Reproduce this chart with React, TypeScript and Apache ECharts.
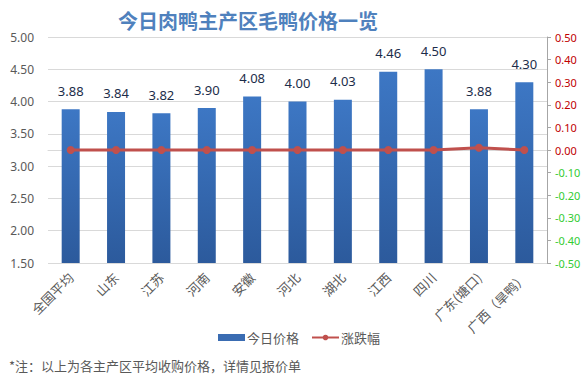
import React, { useEffect, useRef } from "react";
import * as echarts from "echarts";

const categories = ["全国平均", "山东", "江苏", "河南", "安徽", "河北", "湖北", "江西", "四川", "广东(塘口)", "广西（旱鸭）"];
const prices = [3.88, 3.84, 3.82, 3.9, 4.08, 4.0, 4.03, 4.46, 4.5, 3.88, 4.3];
const changes = [0, 0, 0, 0, 0, 0, 0, 0, 0, 0.01, 0];

const CJK = '"Noto Sans CJK SC", "Noto Sans", sans-serif';

export default function App() {
  const ref = useRef<HTMLDivElement>(null);
  useEffect(() => {
    if (!ref.current) return;
    const chart = echarts.init(ref.current, null, { renderer: "svg" });
    chart.setOption({
      animation: false,
      backgroundColor: "#ffffff",
      title: {
        text: "今日肉鸭主产区毛鸭价格一览",
        left: 243,
        textAlign: "center",
        top: 5,
        textStyle: { fontFamily: CJK, fontSize: 20, fontWeight: "bold", color: "#4f81bd" },
      },
      grid: { left: 48, right: 40, top: 37, bottom: 123 },
      legend: {
        left: 213,
        top: 326,
        itemGap: 12,
        itemWidth: 27,
        itemHeight: 7,
        textStyle: { fontFamily: CJK, fontSize: 13, color: "#595959", padding: [0, 0, 0, -3] },
        data: [
          { name: "今日价格", icon: "rect", itemStyle: { color: "#3a6cb2" } },
          { name: "涨跌幅" },
        ],
      },
      graphic: [
        {
          type: "text",
          left: 9,
          top: 359,
          style: {
            text: "*注：以上为各主产区平均收购价格，详情见报价单",
            fontFamily: CJK,
            fontSize: 13,
            fill: "#595959",
          },
        },
      ],
      xAxis: {
        type: "category",
        data: categories,
        axisLine: { lineStyle: { color: "#d9d9d9" } },
        axisTick: { show: false },
        axisLabel: {
          rotate: 45,
          interval: 0,
          fontFamily: CJK,
          fontSize: 13,
          color: "#595959",
          margin: 12,
        },
      },
      yAxis: [
        {
          type: "value",
          min: 1.5,
          max: 5,
          interval: 0.5,
          axisLine: { show: false },
          axisTick: { show: false },
          splitLine: { lineStyle: { color: "#d9d9d9" } },
          axisLabel: {
            formatter: (v: number) => v.toFixed(2),
            fontFamily: "Noto Sans, sans-serif",
            fontSize: 12,
            color: "#595959",
            margin: 14,
          },
        },
        {
          type: "value",
          min: -0.5,
          max: 0.5,
          interval: 0.1,
          position: "right",
          axisLine: { show: true, lineStyle: { color: "#a6a6a6" } },
          axisTick: { show: true, inside: false, length: 4, lineStyle: { color: "#a6a6a6" } },
          splitLine: { show: false },
          axisLabel: {
            formatter: (v: number) => (Math.abs(v) < 1e-9 ? "0.00" : v.toFixed(2)),
            fontFamily: "Noto Sans, sans-serif",
            fontSize: 11,
            margin: 8,
            color: (v: any) => (Number(v) < -1e-9 ? "#33cc33" : "#c00000"),
          },
        },
      ],
      series: [
        {
          name: "今日价格",
          type: "bar",
          data: prices,
          barWidth: 18,
          itemStyle: {
            color: new echarts.graphic.LinearGradient(0, 0, 0, 1, [
              { offset: 0, color: "#3d77c4" },
              { offset: 1, color: "#2c5a9c" },
            ]),
          },
          label: {
            show: true,
            position: "top",
            distance: 12,
            formatter: (p: any) => Number(p.value).toFixed(2),
            fontFamily: "Noto Sans, sans-serif",
            fontSize: 13,
            color: "#1c2d4a",
          },
        },
        {
          name: "涨跌幅",
          type: "line",
          yAxisIndex: 1,
          data: changes,
          symbol: "circle",
          symbolSize: 8,
          lineStyle: { color: "#c0504d", width: 3 },
          itemStyle: { color: "#c0504d" },
        },
      ],
    });
    return () => chart.dispose();
  }, []);
  return <div ref={ref} style={{ width: 587, height: 386, position: "absolute", left: 0, top: 0 }} />;
}
